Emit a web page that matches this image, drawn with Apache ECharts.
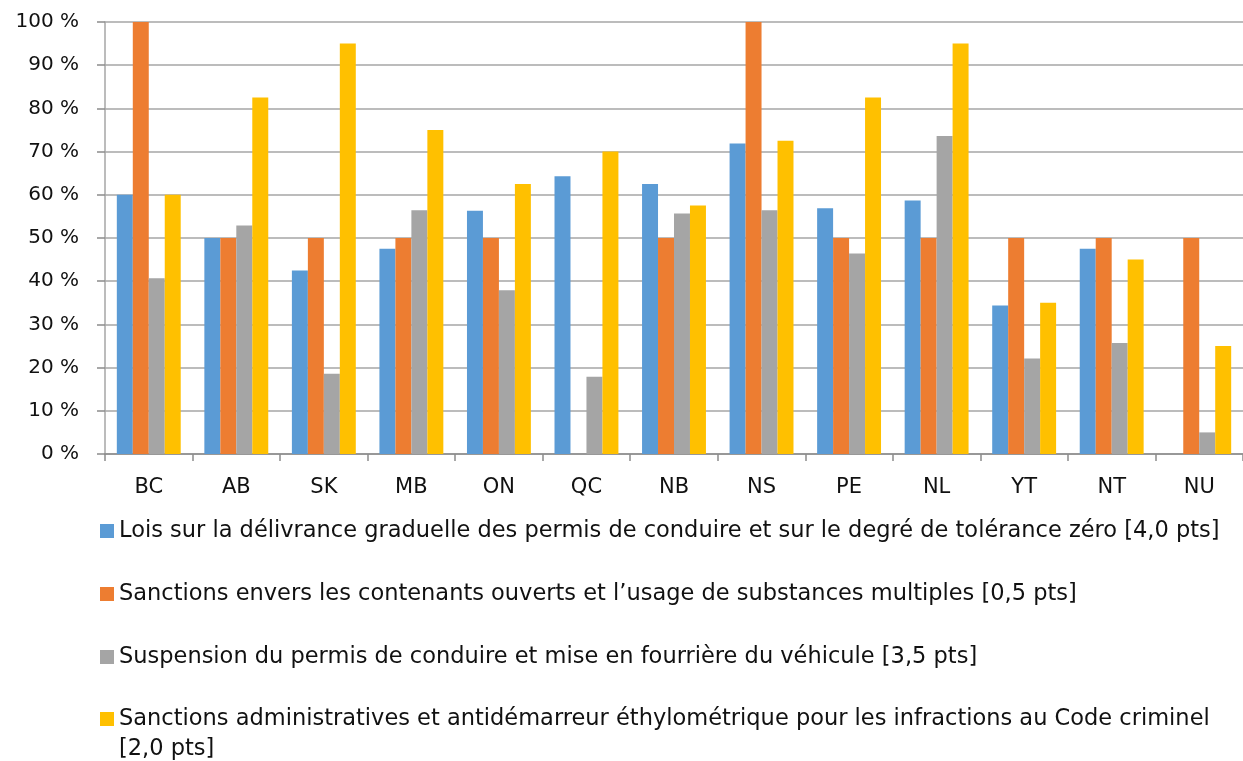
<!DOCTYPE html>
<html lang="fr">
<head>
    <meta charset="utf-8">
    <title>Graphique</title>
    <style>
        body { margin: 0; overflow: hidden; background: #fff; }
    </style>
</head>
<body>
	<div id="chart-container" style="width: 1243px; height: 761px;"></div>

	<script src="https://cdn.jsdelivr.net/npm/echarts@6/dist/echarts.min.js"></script>
	<script>
		// provinces et territoires
		var provinces = ['BC', 'AB', 'SK', 'MB', 'ON', 'QC', 'NB', 'NS', 'PE', 'NL', 'YT', 'NT', 'NU'];

		var seriesNames = [
			'Lois sur la délivrance graduelle des permis de conduire et sur le degré de tolérance zéro [4,0 pts]',
			'Sanctions envers les contenants ouverts et l’usage de substances multiples [0,5 pts]',
			'Suspension du permis de conduire et mise en fourrière du véhicule [3,5 pts]',
			'Sanctions administratives et antidémarreur éthylométrique pour les infractions au Code criminel\n[2,0 pts]'
		];

		// valeurs en %
		var loisPermis = [60, 50, 42.5, 47.5, 56.3, 64.3, 62.5, 71.9, 56.9, 58.7, 34.4, 47.5, 0];
		var contenants = [100, 50, 50, 50, 50, 0, 50, 100, 50, 50, 50, 50, 50];
		var suspension = [40.7, 52.9, 18.6, 56.4, 37.9, 17.9, 55.7, 56.4, 46.4, 73.6, 22.1, 25.7, 5];
		var antidemarreur = [60, 82.5, 95, 75, 62.5, 70, 57.5, 72.5, 82.5, 95, 35, 45, 25];

		var yTicks = { min: 0, max: 100, interval: 10 };

		var colors = ['#5B9BD5', '#ED7D31', '#A5A5A5', '#FFC000'];
		var values = [loisPermis, contenants, suspension, antidemarreur];

		// une légende par série pour placer chaque ligne
		var legendTops = [516, 579, 642, 674];

		var chart = echarts.init(document.getElementById('chart-container'));
		var font = 'DejaVu Sans';
		var textColor = '#111';

		var option = {
			animation: false,
			color: colors,
			grid: { left: 105, right: 0, top: 22, bottom: 307, containLabel: false },
			legend: seriesNames.map(function (name, i) {
				return {
					orient: 'vertical',
					left: 100,
					top: legendTops[i],
					padding: 0,
					itemWidth: 14,
					itemHeight: 14,
					icon: 'rect',
					selectedMode: false,
					// ligne vide en tête pour que le carré soit aligné sur la 1re ligne
					formatter: function (n) { return i === 3 ? ' \n' + n : n; },
					textStyle: { fontFamily: font, fontSize: 22.5, color: textColor, lineHeight: 30 },
					data: [name]
				};
			}),
			xAxis: {
				type: 'category',
				data: provinces,
				axisLine: { lineStyle: { color: '#8c8c8c', width: 1.5 } },
				axisTick: { show: true, length: 7, lineStyle: { color: '#8c8c8c', width: 1.5 } },
				axisLabel: { fontFamily: font, fontSize: 21, color: textColor, margin: 23 }
			},
			yAxis: {
				type: 'value',
				min: yTicks.min,
				max: yTicks.max,
				interval: yTicks.interval,
				axisLine: { show: true, lineStyle: { color: '#a6a6a6', width: 1.5 } },
				axisTick: { show: true, length: 8, lineStyle: { color: '#8c8c8c', width: 1.5 } },
				splitLine: { lineStyle: { color: '#a6a6a6', width: 1.5 } },
				axisLabel: {
					fontFamily: font, fontSize: 20, color: textColor, margin: 26,
					formatter: '{value} %'
				}
			},
			series: seriesNames.map(function (name, i) {
				return {
					name: name,
					type: 'bar',
					data: values[i],
					barGap: '0%',
					barCategoryGap: '27%',
					itemStyle: { color: colors[i] }
				};
			})
		};

		chart.setOption(option);
	</script>
</body>
</html>
